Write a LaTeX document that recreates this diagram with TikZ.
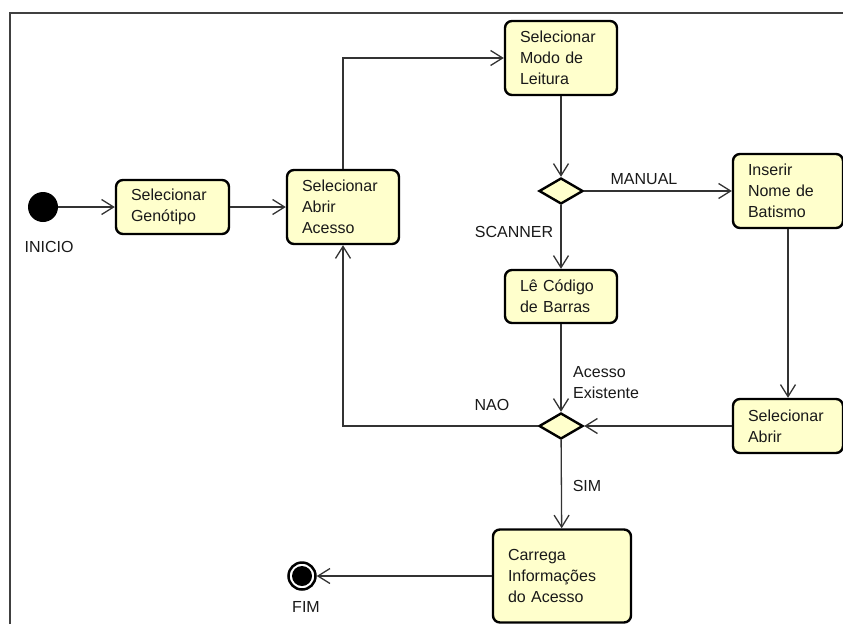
\documentclass[tikz,border=0pt]{standalone}
\usepackage{fontspec}
\setmainfont{Liberation Sans}
\usetikzlibrary{arrows.meta,shapes.geometric}
\definecolor{actfill}{HTML}{FFFFCC}
\definecolor{wire}{HTML}{333333}
\definecolor{framecol}{HTML}{404040}
\begin{document}
\begin{tikzpicture}[x=1pt,y=-1pt,
  every node/.style={font=\fontsize{16}{21}\selectfont, text=black!90},
  action/.style={draw=black, line width=2.4pt, fill=actfill, rounded corners=7pt,
    inner xsep=15pt, inner ysep=0pt, align=left},
  decision/.style={diamond, draw=black, line width=2.4pt, fill=actfill,
    minimum width=44pt, minimum height=26pt, inner sep=0pt},
  flow/.style={draw=wire, line width=1.3pt,
    -{Straight Barb[length=12pt,width=15pt,line width=1.3pt]}},
  guard/.style={inner sep=0pt}]
\useasboundingbox (0,0) rectangle (843,624);

% outer frame
\draw[framecol, line width=2pt] (10,624) -- (10,13) -- (843,13);

% start and end
\node[circle, fill=black, minimum size=30pt, inner sep=0pt] (start) at (43,207) {};
\node[guard] (startlbl) at (49,247) {INICIO};
\node[circle, draw=black, fill=white, line width=2.5pt, minimum size=27pt, inner sep=0pt] (fim) at (302,576) {};
\fill[black] (fim.center) circle (10pt);
\node[guard] (fimlbl) at (306,607) {FIM};

% actions
\node[action, text width=83pt, minimum height=54pt] (gen) at (172.5,207) {Selecionar\\Genótipo};
\node[action, text width=82pt, minimum height=74pt] (abrir) at (343,207) {Selecionar\\Abrir\\Acesso};
\node[action, text width=82pt, minimum height=74pt] (modo) at (561,58) {Selecionar\\Modo de\\Leitura};
\node[action, text width=80pt, minimum height=74pt] (inserir) at (788,191) {Inserir\\Nome de\\Batismo};
\node[action, text width=82pt, minimum height=53pt] (le) at (561,296.5) {Lê Código\\de Barras};
\node[action, text width=80pt, minimum height=54pt] (abrir2) at (788,426) {Selecionar\\Abrir};
\node[action, text width=108pt, minimum height=93pt] (carrega) at (562,576) {Carrega\\Informações\\do Acesso};

% decisions
\node[decision] (d1) at (561,191) {};
\node[decision] (d2) at (561,426) {};

% flows
\draw[flow] (start) -- (gen);
\draw[flow] (gen) -- (abrir);
\draw[flow] (abrir.north) |- (modo.west);
\draw[flow] (modo) -- (d1);
\draw[flow] (d1) -- (inserir);
\draw[flow] (d1) -- (le);
\draw[flow] (le) -- (d2);
\draw[flow] (inserir.south) -- (abrir2.north);
\draw[flow] (abrir2) -- (d2);
\draw[flow] (d2.west) -| (abrir.south);
\draw[flow] (d2) -- (carrega);
\draw[flow] (carrega) -- (fim);

% guards
\node[guard] (manual) at (644,179) {MANUAL};
\node[guard] (scanner) at (514,232) {SCANNER};
\node[guard, anchor=west, align=left] (existente) at (573,383) {Acesso\\Existente};
\node[guard] (nao) at (492,405) {NAO};
\node[guard] (sim) at (587,486) {SIM};
\end{tikzpicture}
\end{document}
